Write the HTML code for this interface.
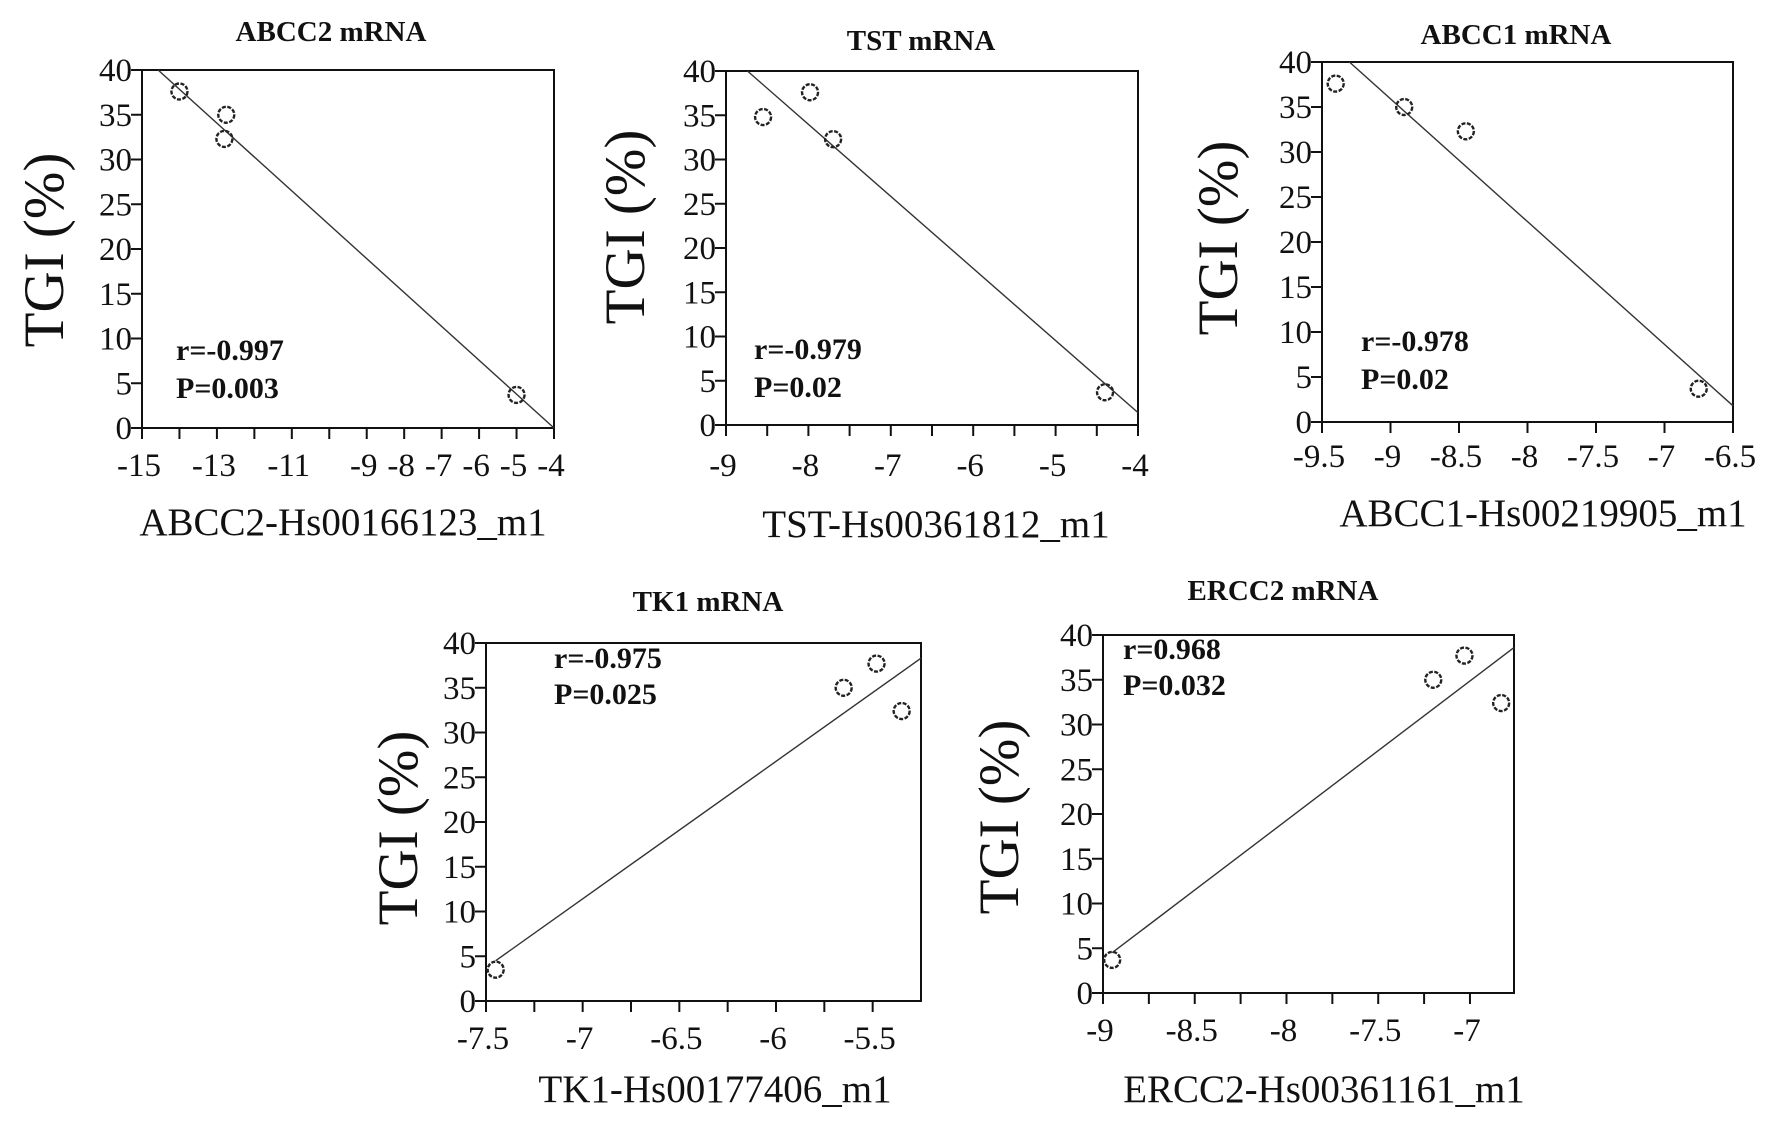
<!DOCTYPE html>
<html><head><meta charset="utf-8">
<style>
html,body{margin:0;padding:0;background:#fff;}
svg{display:block;}
text{font-family:"Liberation Serif","Times New Roman",serif;fill:#111;}
</style></head>
<body>
<svg id="fig" width="1772" height="1128" viewBox="0 0 1772 1128" xmlns="http://www.w3.org/2000/svg"></svg>
<script>
// ---- data arrays ----
const abcc2X = [-14, -12.75, -12.8, -5];
const abcc2Y = [37.6, 35, 32.3, 3.7];
const abcc2Fit = [[-14.57, 40], [-4, 0]];
const abcc2Ticks = [-15,-14,-13,-12,-11,-10,-9,-8,-7,-6,-5,-4];
const abcc2Labels = [-15,-13,-11,-9,-8,-7,-6,-5,-4];

const tstX = [-8.55, -7.98, -7.7, -4.4];
const tstY = [34.8, 37.6, 32.3, 3.7];
const tstFit = [[-8.74, 40], [-4, 1.4]];
const tstTicks = [-9,-8.5,-8,-7.5,-7,-6.5,-6,-5.5,-5,-4.5,-4];
const tstLabels = [-9,-8,-7,-6,-5,-4];

const abcc1X = [-9.4, -8.9, -8.45, -6.75];
const abcc1Y = [37.6, 35, 32.3, 3.7];
const abcc1Fit = [[-9.3, 40], [-6.5, 1.8]];
const abcc1Ticks = [-9.5,-9,-8.5,-8,-7.5,-7,-6.5];
const abcc1Labels = [-9.5,-9,-8.5,-8,-7.5,-7,-6.5];

const tk1X = [-7.45, -5.65, -5.48, -5.35];
const tk1Y = [3.5, 35, 37.7, 32.4];
const tk1Fit = [[-7.45, 4.5], [-5.25, 38.3]];
const tk1Ticks = [-7.5,-7.25,-7,-6.75,-6.5,-6.25,-6,-5.75,-5.5];
const tk1Labels = [-7.5,-7,-6.5,-6,-5.5];

const ercc2X = [-8.95, -7.2, -7.03, -6.83];
const ercc2Y = [3.7, 35, 37.7, 32.4];
const ercc2Fit = [[-8.95, 4.5], [-6.76, 38.6]];
const ercc2Ticks = [-9,-8.75,-8.5,-8.25,-8,-7.75,-7.5,-7.25,-7];
const ercc2Labels = [-9,-8.5,-8,-7.5,-7];

const yTicks = [0,5,10,15,20,25,30,35,40];

const NS = "http://www.w3.org/2000/svg";
const svg = document.getElementById('fig');
function mk(tag, attrs, parent, txt){
  const e = document.createElementNS(NS, tag);
  for (const k in attrs) e.setAttribute(k, attrs[k]);
  if (txt !== undefined) e.textContent = txt;
  parent.appendChild(e);
  return e;
}

function panel(cfg){
  const g = mk('g', {}, svg);
  
  
  const {L,R,T,B,x0,x1} = cfg;
  const sx = v => L + (v - x0) / (x1 - x0) * (R - L);
  const sy = v => B - v / 40 * (B - T);
  const box = mk('rect', {x:L, y:T, width:R-L, height:B-T, fill:'none', stroke:'#111', 'stroke-width':2}, g);
  
  
  yTicks.forEach(v => {
    const y = sy(v);
    const t = mk('line', {x1:L-11, x2:L, y1:y, y2:y, stroke:'#111','stroke-width':2}, g);
    
    
    const lb = mk('text', {x:L-10, y:y+11, 'text-anchor':'end','font-size':33}, g, String(v));
    
    
  });
  cfg.ticks.forEach(v => {
    const x = sx(v);
    const t = mk('line', {x1:x, x2:x, y1:B, y2:B+11, stroke:'#111','stroke-width':2}, g);
    
    
  });
  cfg.labels.forEach(v => {
    const lb = mk('text', {x:sx(v)-3, y:cfg.tickY+11, 'text-anchor':'middle','font-size':33}, g, String(v));
    
    
  });
  const f = cfg.fit;
  const ln = mk('line', {x1:sx(f[0][0]), y1:sy(f[0][1]), x2:sx(f[1][0]), y2:sy(f[1][1]), stroke:'#333','stroke-width':1.4}, g);
  
  
  cfg.xs.forEach((xv, i) => {
    const c = mk('circle', {cx:sx(xv), cy:sy(cfg.ys[i]), r:8, fill:'none', stroke:'#222','stroke-width':2.4,'stroke-dasharray':'4 1.5'}, g);
    
    
  });
  const tt = mk('text', {x:cfg.titleX, y:cfg.titleY+10, 'text-anchor':'middle','font-size':29,'font-weight':'bold'}, g, cfg.title);
  
  
  const xl = mk('text', {x:cfg.xlX, y:cfg.xlY+13, 'text-anchor':'middle','font-size':39}, g, cfg.xlabel);
  
  
  const yl = mk('text', {x:0, y:0, 'text-anchor':'middle','font-size':57, transform:`translate(${cfg.ylX+20},${cfg.ylY}) rotate(-90)`}, g, 'TGI (%)');
  
  
  const a1 = mk('text', {x:cfg.annX, y:cfg.annY1+11, 'font-size':30,'font-weight':'bold'}, g, cfg.r);
  
  
  const a2 = mk('text', {x:cfg.annX, y:cfg.annY2+11, 'font-size':30,'font-weight':'bold'}, g, cfg.p);
  
  
}

panel({id:'abcc2', L:142, R:554, T:70, B:428, x0:-15, x1:-4, xs:abcc2X, ys:abcc2Y, fit:abcc2Fit,
  ticks:abcc2Ticks, labels:abcc2Labels, tickY:465, title:'ABCC2 mRNA', titleX:331, titleY:31,
  xlabel:'ABCC2-Hs00166123_m1', xlX:343, xlY:522, ylX:43, ylY:250,
  r:'r=-0.997', p:'P=0.003', annX:176, annY1:349, annY2:387});

panel({id:'tst', L:726, R:1138, T:71, B:425, x0:-9, x1:-4, xs:tstX, ys:tstY, fit:tstFit,
  ticks:tstTicks, labels:tstLabels, tickY:465, title:'TST mRNA', titleX:921, titleY:40,
  xlabel:'TST-Hs00361812_m1', xlX:936, xlY:524, ylX:624, ylY:227,
  r:'r=-0.979', p:'P=0.02', annX:754, annY1:348, annY2:386});

panel({id:'abcc1', L:1322, R:1733, T:62, B:422, x0:-9.5, x1:-6.5, xs:abcc1X, ys:abcc1Y, fit:abcc1Fit,
  ticks:abcc1Ticks, labels:abcc1Labels, tickY:456, title:'ABCC1 mRNA', titleX:1516, titleY:34,
  xlabel:'ABCC1-Hs00219905_m1', xlX:1543, xlY:513, ylX:1217, ylY:238,
  r:'r=-0.978', p:'P=0.02', annX:1361, annY1:340, annY2:378});

panel({id:'tk1', L:486, R:921, T:643, B:1001, x0:-7.5, x1:-5.25, xs:tk1X, ys:tk1Y, fit:tk1Fit,
  ticks:tk1Ticks, labels:tk1Labels, tickY:1038, title:'TK1 mRNA', titleX:708, titleY:601,
  xlabel:'TK1-Hs00177406_m1', xlX:715, xlY:1089, ylX:397, ylY:828,
  r:'r=-0.975', p:'P=0.025', annX:554, annY1:657, annY2:693});

panel({id:'ercc2', L:1103, R:1514, T:635, B:993, x0:-9, x1:-6.76, xs:ercc2X, ys:ercc2Y, fit:ercc2Fit,
  ticks:ercc2Ticks, labels:ercc2Labels, tickY:1030, title:'ERCC2 mRNA', titleX:1283, titleY:590,
  xlabel:'ERCC2-Hs00361161_m1', xlX:1324, xlY:1089, ylX:998, ylY:817,
  r:'r=0.968', p:'P=0.032', annX:1123, annY1:648, annY2:684});
</script>
</body></html>
